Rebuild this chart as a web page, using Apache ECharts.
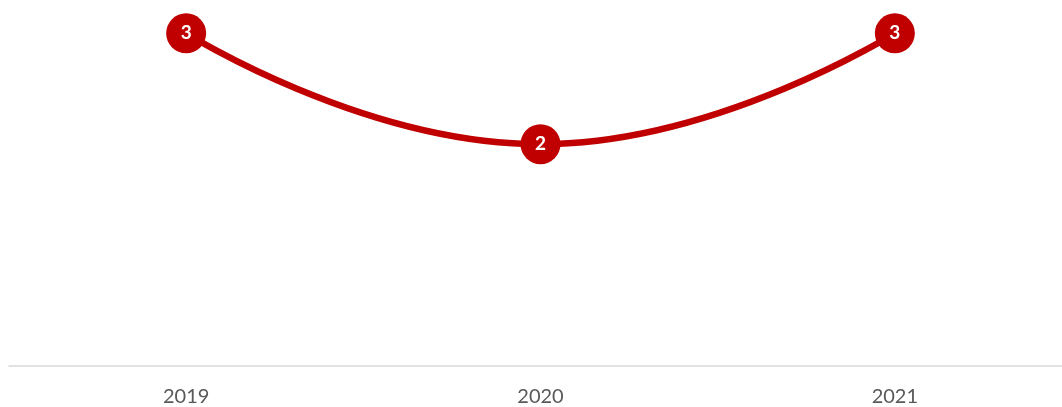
<!DOCTYPE html>
<html>
<head>
<meta charset="utf-8">
<script src="https://cdn.jsdelivr.net/npm/echarts@6/dist/echarts.min.js"></script>
<style>
  html, body { margin: 0; padding: 0; background: #ffffff; overflow: hidden; }
  #chart { width: 1072px; height: 407px; }
</style>
</head>
<body>
<div id="chart"></div>
<script>
// Yearly values
const years = ['2019', '2020', '2021'];
const values = [3, 2, 3];

const chart = echarts.init(document.getElementById('chart'), null, { renderer: 'canvas' });

chart.setOption({
  animation: false,
  backgroundColor: '#ffffff',
  grid: { left: 9, right: 0, top: 0, bottom: 41, containLabel: false },
  xAxis: {
    type: 'category',
    data: years,
    boundaryGap: true,
    axisLine: { show: true, lineStyle: { color: '#d9d9d9', width: 1.5 } },
    axisTick: { show: false },
    axisLabel: {
      color: '#595959',
      fontFamily: 'Lato, "Open Sans", sans-serif',
      fontSize: 20,
      margin: 21
    },
    splitLine: { show: false }
  },
  yAxis: {
    type: 'value',
    min: 0,
    max: 3.3,
    show: false,
    splitLine: { show: false }
  },
  series: [{
    type: 'line',
    data: values,
    smooth: 0.5,
    symbol: 'circle',
    symbolSize: 40,
    lineStyle: { color: '#c00000', width: 6.5 },
    itemStyle: { color: '#c00000', borderColor: '#c00000', borderWidth: 0 },
    label: {
      show: true,
      position: 'inside',
      color: '#ffffff',
      fontWeight: 'bold',
      fontFamily: 'Lato, "Open Sans", sans-serif',
      fontSize: 19
    },
    z: 3
  }]
});
</script>
</body>
</html>
